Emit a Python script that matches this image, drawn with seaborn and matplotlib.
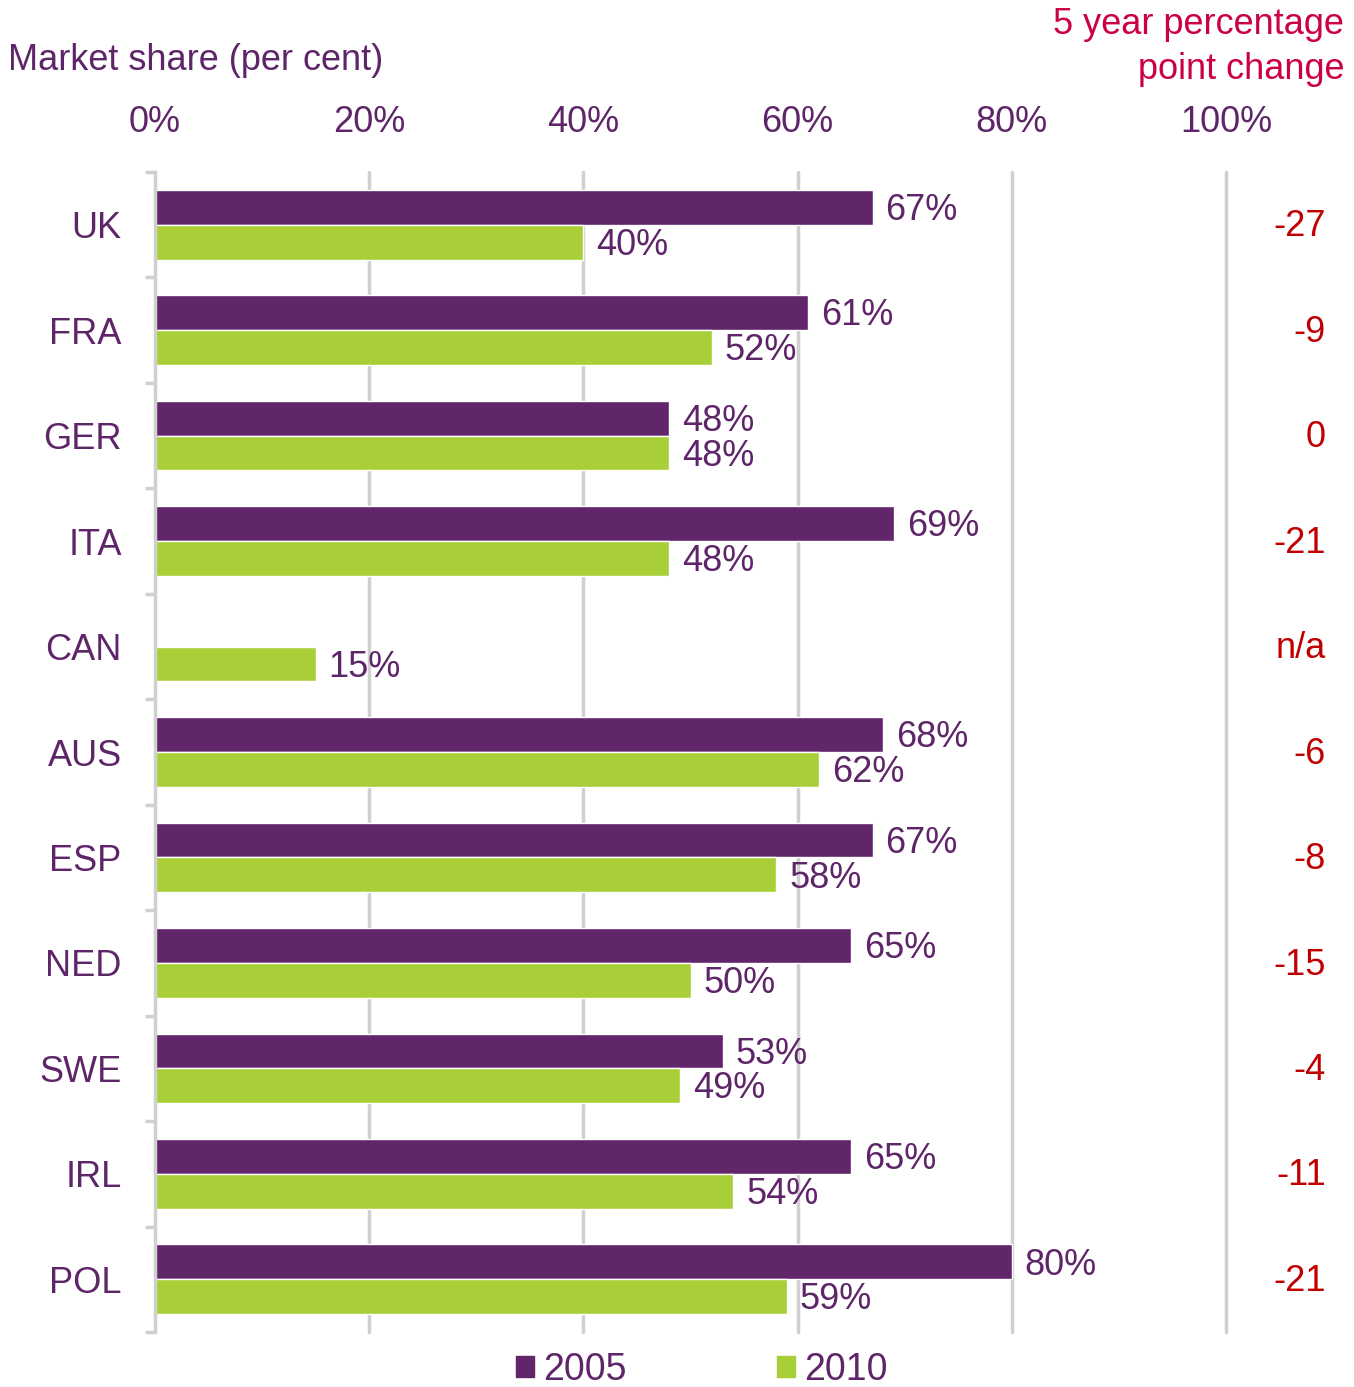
import numpy as np
import pandas as pd
import seaborn as sns
import matplotlib.pyplot as plt
from matplotlib.transforms import blended_transform_factory

# Market share per country, 2005 vs 2010 (CAN has no 2005 value)
countries = ["UK", "FRA", "GER", "ITA", "CAN", "AUS", "ESP", "NED", "SWE", "IRL", "POL"]
share_2005 = [67, 61, 48, 69, np.nan, 68, 67, 65, 53, 65, 80]
share_2010 = [40, 52, 48, 48, 15, 62, 58, 50, 49, 54, 59]
change_labels = ["-27", "-9", "0", "-21", "n/a", "-6", "-8", "-15", "-4", "-11", "-21"]
x_ticks = [0, 20, 40, 60, 80, 100]

purple = "#61256A"
green = "#A9CF38"
text_purple = "#5E2568"
red = "#C00000"
fs = 26

df = pd.DataFrame({
    "country": countries * 2,
    "year": ["2005"] * len(countries) + ["2010"] * len(countries),
    "share": share_2005 + share_2010,
})

sns.set_style("white")
plt.rcParams["font.family"] = ["Liberation Sans", "DejaVu Sans"]

fig = plt.figure(figsize=(13.54, 13.87), dpi=100)
ax = fig.add_axes([155 / 1354, 1 - 1332 / 1387, 1071 / 1354, 1160 / 1387])

sns.barplot(data=df, y="country", x="share", hue="year", order=countries,
            palette={"2005": purple, "2010": green}, width=0.66,
            orient="h", ax=ax, legend=False, saturation=1)

ax.set_xlim(0, 100)
ax.set_ylim(len(countries) - 0.5, -0.5)
ax.set_xticks(x_ticks)
ax.set_xticklabels([f"{t}%" for t in x_ticks])
ax.xaxis.tick_top()
ax.tick_params(axis="x", length=0, pad=23, labelsize=fs, labelcolor=text_purple)
ax.tick_params(axis="y", length=0, pad=24, labelsize=fs, labelcolor=text_purple)
ax.set_xlabel("")
ax.set_ylabel("")

# vertical gridlines
for t in x_ticks[1:]:
    ax.axvline(t, color="#D0D0D0", lw=2.5, zorder=0, clip_on=False)

for s in ["top", "right", "bottom"]:
    ax.spines[s].set_visible(False)
ax.spines["left"].set_color("#D0D0D0")
ax.spines["left"].set_linewidth(2.5)

# boundary ticks on the category axis
ax.set_yticks(np.arange(-0.5, len(countries), 1), minor=True)
ax.tick_params(axis="y", which="minor", left=True, length=7, width=2.5,
               color="#D0D0D0", direction="out")

# data labels
for cont in ax.containers:
    vals = cont.datavalues
    for rect, v in zip(cont, vals):
        if np.isnan(v):
            continue
        ax.text(v + 1.2, rect.get_y() + rect.get_height() / 2 + 0.03, f"{int(v)}%",
                va="center", ha="left", fontsize=fs, color=text_purple)

# right column: 5 year change
trans = blended_transform_factory(ax.transAxes, ax.transData)
for i, lab in enumerate(change_labels):
    ax.text((1326 - 155) / 1071, i + 0.02, lab, transform=trans, ha="right", va="center",
            fontsize=fs, color=red)

fig.text(8 / 1354, 1 - 60 / 1387, "Market share (per cent)", ha="left", va="center",
         fontsize=fs, color=text_purple)
fig.text(1344 / 1354, 1 - 47 / 1387, "5 year percentage\npoint change", ha="right",
         va="center", fontsize=fs, color="#CC0044", linespacing=1.35)

handles = [plt.Rectangle((0, 0), 1, 1, color=purple), plt.Rectangle((0, 0), 1, 1, color=green)]
fig.legend(handles, ["2005", "2010"], loc="center", bbox_to_anchor=(702 / 1354, 1 - 1370 / 1387),
           ncol=2, frameon=False, fontsize=27, labelcolor=text_purple,
           handlelength=0.48, handleheight=0.48, handletextpad=0.25, columnspacing=4.0)

fig.savefig("out.png", dpi=100)
